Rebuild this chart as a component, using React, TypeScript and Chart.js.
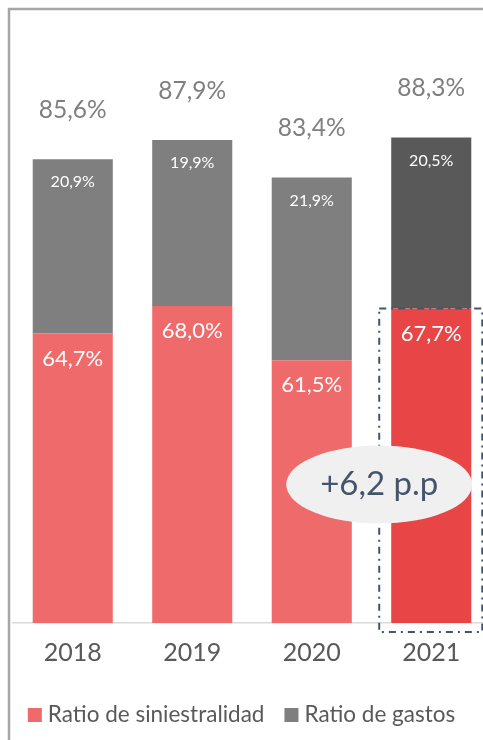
import React, { useEffect, useRef } from "react";
import { Chart, registerables } from "chart.js";

Chart.register(...registerables);

// ---- data ----
const YEARS = ["2018", "2019", "2020", "2021"];
const SINIESTRALIDAD = [64.7, 68.0, 61.5, 67.7];
const GASTOS = [20.9, 19.9, 21.9, 20.5];
const TOTALES = [85.6, 87.9, 83.4, 88.3];
const SERIES_NAMES = ["Ratio de siniestralidad", "Ratio de gastos"];
const CALLOUT_TEXT = "+6,2 p.p";
const CALLOUT_VALUE = 46.6;
const HIGHLIGHT_INDEX = 3;
const Y_MIN = 30;
const Y_MAX = 100;

// ---- styles ----
const VIEW_W = 483;
const VIEW_H = 740;
const CANVAS_W = 491;
const RED = "#EF6A6B";
const RED_HI = "#E84547";
const GRAY = "#7F7F7F";
const GRAY_HI = "#595959";
const TEXT_DARK = "#595959";
const TOTAL_COLOR = "#7F7F7F";
const SLATE = "#44546A";
const FONT = "Lato, 'Open Sans', sans-serif";

const fmt = (v: number) => v.toFixed(1).replace(".", ",") + "%";

const overlayPlugin = {
  id: "overlay",
  beforeDraw(chart: any) {
    const ctx = chart.ctx;
    ctx.save();
    ctx.fillStyle = "#FFFFFF";
    ctx.fillRect(0, 0, chart.width, chart.height);
    ctx.restore();
  },
  afterDatasetsDraw(chart: any) {
    const ctx = chart.ctx;
    const ys = chart.scales.y;
    const m0 = chart.getDatasetMeta(0).data;
    const m1 = chart.getDatasetMeta(1).data;
    ctx.save();
    ctx.textAlign = "center";
    ctx.textBaseline = "middle";
    for (let i = 0; i < YEARS.length; i++) {
      const b0 = m0[i];
      const b1 = m1[i];
      ctx.fillStyle = "#FFFFFF";
      ctx.font = `22px ${FONT}`;
      ctx.fillText(fmt(SINIESTRALIDAD[i]), b0.x, b0.y + 25);
      ctx.font = `16px ${FONT}`;
      ctx.fillText(fmt(GASTOS[i]), b1.x, b1.y + 23);
      ctx.fillStyle = TOTAL_COLOR;
      ctx.font = `24.5px ${FONT}`;
      ctx.fillText(fmt(TOTALES[i]), b1.x, ys.getPixelForValue(TOTALES[i]) - 49);
    }
    // highlight dashed box
    const hb = m0[HIGHLIGHT_INDEX];
    const left = hb.x - hb.width / 2 - 12;
    const right = hb.x + hb.width / 2 + 11;
    const top = hb.y;
    const bottom = chart.chartArea.bottom + 9;
    ctx.strokeStyle = SLATE;
    ctx.lineWidth = 2;
    ctx.setLineDash([7, 5, 2, 5]);
    ctx.strokeRect(left, top, right - left, bottom - top);
    ctx.setLineDash([]);
    // callout ellipse
    const cy = ys.getPixelForValue(CALLOUT_VALUE);
    ctx.fillStyle = "#F0F0F0";
    ctx.beginPath();
    ctx.ellipse(left, cy, 93, 39, 0, 0, Math.PI * 2);
    ctx.fill();
    ctx.fillStyle = SLATE;
    ctx.font = `33px ${FONT}`;
    ctx.fillText(CALLOUT_TEXT, left, cy);
    ctx.restore();
  },
  afterDraw(chart: any) {
    const ctx = chart.ctx;
    ctx.save();
    // frame
    ctx.strokeStyle = "#A6A6A6";
    ctx.lineWidth = 2.5;
    ctx.beginPath();
    ctx.moveTo(9, chart.height);
    ctx.lineTo(9, 9);
    ctx.lineTo(chart.width, 9);
    ctx.stroke();
    // legend
    const colors = [RED, GRAY];
    ctx.font = `22.5px ${FONT}`;
    ctx.textBaseline = "middle";
    ctx.textAlign = "left";
    const box = 14;
    const gap = 6;
    const spacing = 20;
    const widths = SERIES_NAMES.map((n) => ctx.measureText(n).width);
    const total = widths.reduce((a, w) => a + box + gap + w, 0) + spacing;
    let x = VIEW_W / 2 - total / 2;
    const cy = 715;
    SERIES_NAMES.forEach((n, i) => {
      ctx.fillStyle = colors[i];
      ctx.fillRect(x, cy - box / 2, box, box);
      ctx.fillStyle = TEXT_DARK;
      ctx.fillText(n, x + box + gap, cy);
      x += box + gap + widths[i] + spacing;
    });
    ctx.restore();
  },
};

export default function App() {
  const ref = useRef<HTMLCanvasElement>(null);
  useEffect(() => {
    if (!ref.current) return;
    const chart = new Chart(ref.current, {
      type: "bar",
      data: {
        labels: YEARS,
        datasets: [
          {
            label: SERIES_NAMES[0],
            data: SINIESTRALIDAD,
            backgroundColor: SINIESTRALIDAD.map((_, i) => (i === HIGHLIGHT_INDEX ? RED_HI : RED)),
            categoryPercentage: 1,
            barPercentage: 0.67,
          },
          {
            label: SERIES_NAMES[1],
            data: GASTOS,
            backgroundColor: GASTOS.map((_, i) => (i === HIGHLIGHT_INDEX ? GRAY_HI : GRAY)),
            categoryPercentage: 1,
            barPercentage: 0.67,
          },
        ],
      },
      options: {
        responsive: false,
        animation: false,
        layout: { padding: { left: 13, right: 0, top: 39, bottom: 57 } },
        plugins: { legend: { display: false }, tooltip: { enabled: false } },
        scales: {
          x: {
            stacked: true,
            grid: { display: false, drawTicks: false },
            border: { display: true, color: "#D9D9D9", width: 1.5 },
            ticks: { color: TEXT_DARK, font: { family: FONT, size: 25 }, padding: 15 },
          },
          y: { stacked: true, display: false, min: Y_MIN, max: Y_MAX },
        },
      },
      plugins: [overlayPlugin],
    });
    return () => chart.destroy();
  }, []);
  return (
    <div
      style={{
        position: "absolute",
        left: 0,
        top: 0,
        width: VIEW_W,
        height: VIEW_H,
        overflow: "hidden",
        background: "#fff",
      }}
    >
      <canvas ref={ref} width={CANVAS_W} height={VIEW_H} style={{ width: CANVAS_W, height: VIEW_H, display: "block" }} />
    </div>
  );
}
